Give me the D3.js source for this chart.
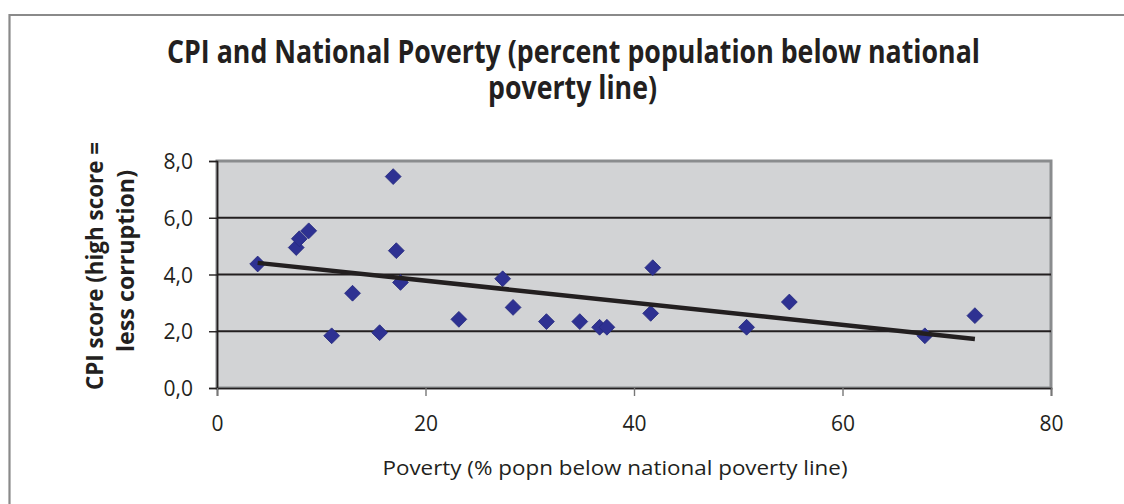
<!DOCTYPE html>
<html>
<head>
<meta charset="utf-8">
<script src="https://cdn.jsdelivr.net/npm/d3@7"></script>
<style>
  html, body { margin: 0; padding: 0; background: #fff; }
  svg { display: block; }
</style>
</head>
<body>
<svg id="chart" width="1124" height="504"></svg>
<script>
// Poverty rate (% of population below national poverty line) per country
const poverty = [3.9, 7.6, 7.9, 8.8, 16.9, 17.2, 17.6, 13.0, 11.0, 15.6, 23.2,
                 27.4, 28.4, 31.6, 34.8, 36.7, 37.4, 41.8, 41.6, 50.8, 54.9, 67.9, 72.7];
// CPI score for the same countries
const cpi = [4.37, 4.95, 5.26, 5.54, 7.45, 4.84, 3.72, 3.34, 1.84, 1.95, 2.42,
             3.85, 2.84, 2.34, 2.34, 2.14, 2.14, 4.24, 2.63, 2.14, 3.03, 1.84, 2.55];
// Linear trend line end points
const trendX = [3.9, 72.7];
const trendY = [4.41, 1.73];

const xTicks = [0, 20, 40, 60, 80];
const yTicks = [0, 2, 4, 6, 8];

const titleLines = ["CPI and National Poverty (percent population below national", "poverty line)"];
const yTitleLines = ["CPI score (high score =", "less corruption)"];
const xTitle = "Poverty (% popn below national poverty line)";

const svg = d3.select("#chart");
const plot = { left: 217, right: 1051, top: 161, bottom: 388 };

const x = d3.scaleLinear().domain([0, 80]).range([plot.left, plot.right]);
const y = d3.scaleLinear().domain([0, 8]).range([plot.bottom, plot.top]);

const fmt = v => d3.format(".1f")(v).replace(".", ",");

// outer frame
svg.append("path")
  .attr("d", "M9.5,504 V15 H1124")
  .attr("fill", "none").attr("stroke", "#8a8a8a").attr("stroke-width", 2.2);

// title
const titleFont = "'Liberation Sans Narrow', 'Open Sans', sans-serif";
const title = svg.append("text").attr("font-family", titleFont).attr("font-weight", "bold")
  .attr("font-size", 32).attr("fill", "#231f20").attr("text-anchor", "middle");
title.append("tspan").attr("x", 573.5).attr("y", 63).text(titleLines[0])
  .attr("textLength", 813).attr("lengthAdjust", "spacingAndGlyphs");
title.append("tspan").attr("x", 572.5).attr("y", 99).text(titleLines[1])
  .attr("textLength", 169).attr("lengthAdjust", "spacingAndGlyphs");

// plot background
svg.append("rect")
  .attr("x", plot.left).attr("y", plot.top)
  .attr("width", plot.right - plot.left).attr("height", plot.bottom - plot.top)
  .attr("fill", "#d2d3d5").attr("stroke", "#8a8c8e").attr("stroke-width", 3);

// horizontal gridlines
svg.append("g").selectAll("line").data(yTicks.filter(d => d > 0 && d < 8)).join("line")
  .attr("x1", plot.left).attr("x2", plot.right)
  .attr("y1", d => y(d)).attr("y2", d => y(d))
  .attr("stroke", "#231f20").attr("stroke-width", 2.2);

// axes
const tickFont = "'Open Sans', sans-serif";
const yAxis = svg.append("g").attr("transform", `translate(${plot.left},0)`)
  .call(d3.axisLeft(y).tickValues(yTicks).tickFormat(fmt).tickSize(8).tickPadding(16));
yAxis.select(".domain").attr("stroke", "#231f20").attr("stroke-width", 1.6);
yAxis.selectAll(".tick line").attr("stroke", "#231f20").attr("stroke-width", 1.4);
yAxis.selectAll(".tick text").attr("font-family", tickFont).attr("font-size", 21)
  .attr("fill", "#231f20").attr("dy", "0.36em");

const xAxis = svg.append("g").attr("transform", `translate(0,${plot.bottom})`)
  .call(d3.axisBottom(x).tickValues(xTicks).tickFormat(d3.format("d")).tickSize(8).tickPadding(20));
xAxis.select(".domain").attr("stroke", "#231f20").attr("stroke-width", 1.6);
xAxis.selectAll(".tick line").attr("stroke", "#777").attr("stroke-width", 1.4);
xAxis.selectAll(".tick text").attr("font-family", tickFont).attr("font-size", 21)
  .attr("fill", "#231f20").attr("dy", "0.72em");

// points
const diamond = d3.symbol().type(d3.symbolSquare).size(125);
svg.append("g").selectAll("path").data(poverty.map((p, i) => [p, cpi[i]])).join("path")
  .attr("d", diamond)
  .attr("transform", d => `translate(${x(d[0])},${y(d[1])}) rotate(45)`)
  .attr("fill", "#2e3192").attr("stroke", "#262a80").attr("stroke-width", 0.8);

// trend line
svg.append("line")
  .attr("x1", x(trendX[0])).attr("y1", y(trendY[0]))
  .attr("x2", x(trendX[1])).attr("y2", y(trendY[1]))
  .attr("stroke", "#231f20").attr("stroke-width", 4.5);

// axis titles
svg.append("text")
  .attr("x", 615).attr("y", 475).attr("text-anchor", "middle")
  .attr("font-family", tickFont).attr("font-size", 20).attr("fill", "#231f20")
  .attr("textLength", 465).attr("lengthAdjust", "spacingAndGlyphs")
  .text(xTitle);

const yTitle = svg.append("text")
  .attr("transform", "translate(0,0) rotate(-90)")
  .attr("text-anchor", "middle").attr("font-family", titleFont).attr("font-weight", "bold")
  .attr("font-size", 24).attr("fill", "#231f20");
yTitle.append("tspan").attr("x", -266).attr("y", 103).text(yTitleLines[0])
  .attr("textLength", 248).attr("lengthAdjust", "spacingAndGlyphs");
yTitle.append("tspan").attr("x", -261).attr("y", 134).text(yTitleLines[1])
  .attr("textLength", 182).attr("lengthAdjust", "spacingAndGlyphs");
</script>
</body>
</html>
